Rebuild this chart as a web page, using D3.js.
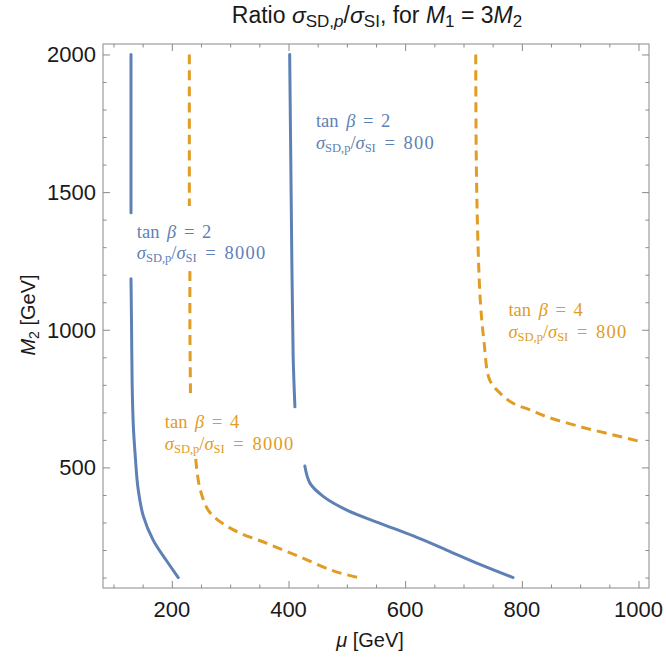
<!DOCTYPE html>
<html>
<head>
<meta charset="utf-8">
<script src="https://cdn.jsdelivr.net/npm/d3@7"></script>
<style>
  html, body { margin: 0; padding: 0; background: #fff; }
  svg { display: block; }
</style>
</head>
<body>
<svg id="chart" width="666" height="660"></svg>
<script>
// Contour segments of sigma_SD,p / sigma_SI, as [mu, M2] pairs in GeV
const tb2_r8000_upper = [[130, 2000], [130, 1700], [130, 1425]];
const tb2_r8000_lower = [[130, 1185], [131, 1000], [132, 800], [134, 650], [137, 550], [142, 425], [151, 324], [168, 236], [191, 161], [211, 100]];
const tb4_r8000_upper = [[230, 2000], [230, 1700], [230, 1450]];
const tb4_r8000_mid   = [[231, 1213], [231, 1000], [232, 763]];
const tb4_r8000_lower = [[241, 531], [248, 425], [265, 337], [305, 274], [363, 224], [420, 175], [477, 124], [520, 100]];
const tb2_r800_upper  = [[402, 2000], [404, 1600], [406, 1200], [408, 900], [411, 720]];
const tb2_r800_lower  = [[428, 505], [437, 442], [460, 394], [500, 345], [557, 297], [614, 251], [671, 200], [728, 148], [785, 100]];
const tb4_r800        = [[721, 2000], [722, 1600], [725, 1300], [729, 1100], [735, 960], [745, 817], [763, 769], [785, 733], [814, 709], [843, 684], [900, 648], [957, 618], [1003, 594]];

// Axis ticks
const xMajorTicks = [200, 400, 600, 800, 1000];
const xMinorTicks = d3.range(100, 1001, 50).filter(v => v % 200 !== 0);
const yMajorTicks = [500, 1000, 1500, 2000];
const yMinorTicks = d3.range(100, 2001, 100).filter(v => v % 500 !== 0);

// Contour labels: [mu, M2, tan beta, ratio]
const labelsBlue   = [[140, 1330, 2, 8000], [447, 1732, 2, 800]];
const labelsOrange = [[188, 639, 4, 8000], [777, 1045, 4, 800]];

const BLUE = "#5e81b5";
const ORANGE = "#e19c24";

const svg = d3.select("#chart");
const plotL = 103, plotR = 649, plotT = 44, plotB = 588;

const x = d3.scaleLinear().domain([82, 1018]).range([plotL, plotR]);
const y = d3.scaleLinear().domain([62, 2038]).range([plotB, plotT]);

// plot area clip
svg.append("defs").append("clipPath").attr("id", "plotclip")
  .append("rect").attr("x", plotL).attr("y", plotT).attr("width", plotR - plotL).attr("height", plotB - plotT);

const line = d3.line()
  .x(d => x(d[0])).y(d => y(d[1]))
  .curve(d3.curveCatmullRom.alpha(0.5));

const curves = svg.append("g").attr("clip-path", "url(#plotclip)");
function drawCurve(data, color, dashed) {
  curves.append("path")
    .datum(data)
    .attr("d", line)
    .attr("fill", "none")
    .attr("stroke", color)
    .attr("stroke-width", 3)
    .attr("stroke-linecap", dashed ? "butt" : "round")
    .attr("stroke-dasharray", dashed ? "10,6" : null);
}
drawCurve(tb2_r8000_upper, BLUE, false);
drawCurve(tb2_r8000_lower, BLUE, false);
drawCurve(tb2_r800_upper, BLUE, false);
drawCurve(tb2_r800_lower, BLUE, false);
drawCurve(tb4_r8000_upper, ORANGE, true);
drawCurve(tb4_r8000_mid, ORANGE, true);
drawCurve(tb4_r8000_lower, ORANGE, true);
drawCurve(tb4_r800, ORANGE, true);

// Frame with inward ticks on all four sides
const frameColor = "#8a8a8a";
const majorLen = 7, minorLen = 3.5;
const axisGroup = (axis, tx, ty) => {
  const g = svg.append("g").attr("transform", `translate(${tx},${ty})`).call(axis);
  g.select(".domain").remove();
  g.selectAll("line").attr("stroke", frameColor).attr("stroke-width", 1);
  return g;
};
axisGroup(d3.axisTop(x).tickValues(xMinorTicks).tickSize(minorLen).tickFormat(""), 0, plotB);
axisGroup(d3.axisBottom(x).tickValues(xMinorTicks).tickSize(minorLen).tickFormat(""), 0, plotT);
axisGroup(d3.axisTop(x).tickValues(xMajorTicks).tickSize(majorLen).tickFormat(""), 0, plotB);
axisGroup(d3.axisBottom(x).tickValues(xMajorTicks).tickSize(majorLen).tickFormat(""), 0, plotT);
axisGroup(d3.axisRight(y).tickValues(yMinorTicks).tickSize(minorLen).tickFormat(""), plotL, 0);
axisGroup(d3.axisLeft(y).tickValues(yMinorTicks).tickSize(minorLen).tickFormat(""), plotR, 0);
axisGroup(d3.axisRight(y).tickValues(yMajorTicks).tickSize(majorLen).tickFormat(""), plotL, 0);
axisGroup(d3.axisLeft(y).tickValues(yMajorTicks).tickSize(majorLen).tickFormat(""), plotR, 0);

svg.append("rect")
  .attr("x", plotL).attr("y", plotT).attr("width", plotR - plotL).attr("height", plotB - plotT)
  .attr("fill", "none").attr("stroke", frameColor).attr("stroke-width", 1);

// Tick labels
const sans = "'Liberation Sans', Arial, sans-serif";
svg.append("g").selectAll("text").data(xMajorTicks).join("text")
  .attr("x", d => x(d)).attr("y", 617)
  .attr("text-anchor", "middle")
  .attr("font-family", sans).attr("font-size", 22).attr("fill", "#1a1a1a")
  .text(d => d);
svg.append("g").selectAll("text").data(yMajorTicks).join("text")
  .attr("x", 96).attr("y", d => y(d)).attr("dy", "0.36em")
  .attr("text-anchor", "end")
  .attr("font-family", sans).attr("font-size", 22).attr("fill", "#1a1a1a")
  .text(d => d);

// Axis titles
const xt = svg.append("text")
  .attr("x", 370).attr("y", 647).attr("text-anchor", "middle")
  .attr("font-family", sans).attr("font-size", 20).attr("fill", "#1a1a1a");
xt.append("tspan").attr("font-style", "italic").text("μ");
xt.append("tspan").text(" [GeV]");

const yt = svg.append("text")
  .attr("transform", "translate(35,315) rotate(-90)")
  .attr("text-anchor", "middle")
  .attr("font-family", sans).attr("font-size", 20).attr("fill", "#1a1a1a");
yt.append("tspan").attr("font-style", "italic").text("M");
yt.append("tspan").attr("font-size", 14).attr("dy", 4).text("2");
yt.append("tspan").attr("dy", -4).text(" [GeV]");

// Title
const tt = svg.append("text")
  .attr("x", 377).attr("y", 23).attr("text-anchor", "middle")
  .attr("font-family", sans).attr("font-size", 23).attr("fill", "#1a1a1a");
tt.append("tspan").text("Ratio ");
tt.append("tspan").attr("font-style", "italic").text("σ");
tt.append("tspan").attr("font-size", 17).attr("dy", 4).text("SD,");
tt.append("tspan").attr("font-size", 17).attr("font-style", "italic").text("p");
tt.append("tspan").attr("dy", -4).text("/");
tt.append("tspan").attr("font-style", "italic").text("σ");
tt.append("tspan").attr("font-size", 17).attr("dy", 4).text("SI");
tt.append("tspan").attr("dy", -4).text(", for ");
tt.append("tspan").attr("font-style", "italic").text("M");
tt.append("tspan").attr("font-size", 17).attr("dy", 4).text("1");
tt.append("tspan").attr("dy", -4).text(" = 3");
tt.append("tspan").attr("font-style", "italic").text("M");
tt.append("tspan").attr("font-size", 17).attr("dy", 4).text("2");

// Contour labels: two stacked lines of serif text
const serif = "'Liberation Serif', 'Times New Roman', serif";
function drawLabel(d, color) {
  const [mu, m2, tb, ratio] = d;
  const g = svg.append("g").attr("fill", color).attr("font-family", serif).attr("font-size", 18.5);
  const l1 = g.append("text").attr("x", x(mu)).attr("y", y(m2) - 1).style("word-spacing", "3px");
  l1.append("tspan").text("tan ");
  l1.append("tspan").attr("font-style", "italic").text("β");
  l1.append("tspan").text(" = " + tb);
  const l2 = g.append("text").attr("x", x(mu)).attr("y", y(m2) + 20.5).style("word-spacing", "4px");
  l2.append("tspan").attr("font-style", "italic").text("σ");
  l2.append("tspan").attr("font-size", 12.5).attr("dy", 3).text("SD,p");
  l2.append("tspan").attr("dy", -3).text("/");
  l2.append("tspan").attr("font-style", "italic").text("σ");
  l2.append("tspan").attr("font-size", 12.5).attr("dy", 3).text("SI");
  l2.append("tspan").attr("dy", -3).text(" = ");
  l2.append("tspan").style("letter-spacing", "1.3px").text(ratio);
}
labelsBlue.forEach(d => drawLabel(d, BLUE));
labelsOrange.forEach(d => drawLabel(d, ORANGE));
</script>
</body>
</html>
